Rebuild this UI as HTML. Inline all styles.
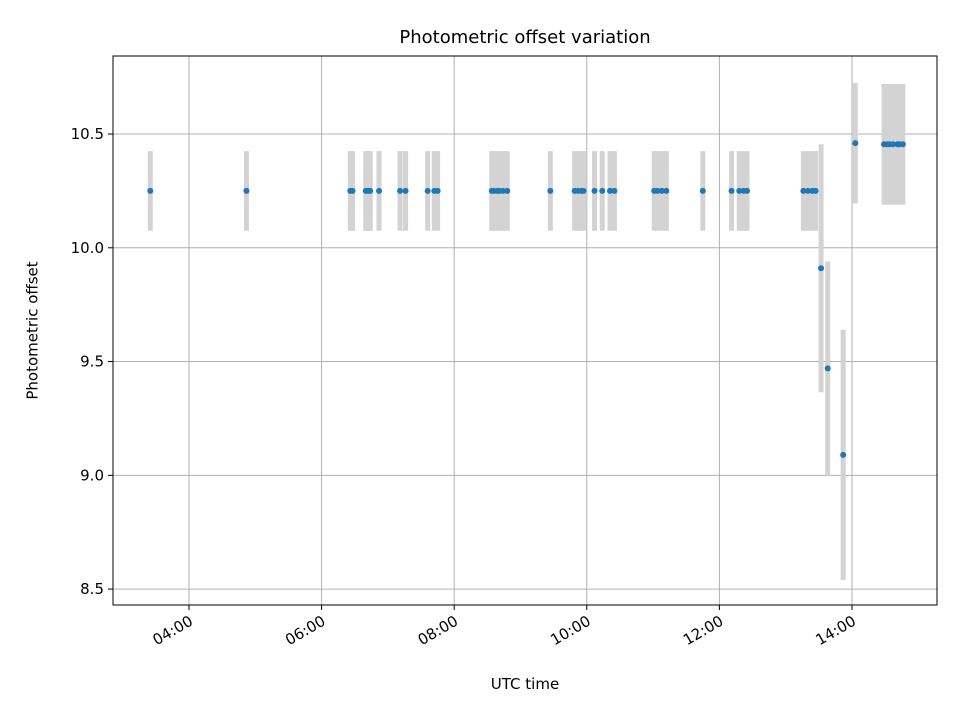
<!DOCTYPE html>
<html><head><meta charset="utf-8"><style>
body{margin:0;background:#fff;}
svg text{font-family:"DejaVu Sans","Liberation Sans",sans-serif;}
</style></head><body>
<svg id="chart" width="960" height="720" xmlns="http://www.w3.org/2000/svg"></svg>
<script>
const times=["03:25","04:52","06:26","06:28","06:40","06:42","06:44","06:52","07:11","07:16","07:36","07:42","07:45","08:34","08:36","08:39","08:41","08:44","08:48","09:27","09:49","09:52","09:55","09:57","10:07","10:14","10:21","10:25","11:01","11:04","11:08","11:12","11:45","12:11","12:18","12:22","12:25","13:16","13:20","13:24","13:27","13:32","13:38","13:52","14:03","14:29","14:32","14:34","14:37","14:41","14:43","14:46"];
const offsets=[10.25,10.25,10.25,10.25,10.25,10.25,10.25,10.25,10.25,10.25,10.25,10.25,10.25,10.25,10.25,10.25,10.25,10.25,10.25,10.25,10.25,10.25,10.25,10.25,10.25,10.25,10.25,10.25,10.25,10.25,10.25,10.25,10.25,10.25,10.25,10.25,10.25,10.25,10.25,10.25,10.25,9.91,9.47,9.09,10.46,10.455,10.455,10.455,10.455,10.455,10.455,10.455];
const errors=[0.175,0.175,0.175,0.175,0.175,0.175,0.175,0.175,0.175,0.175,0.175,0.175,0.175,0.175,0.175,0.175,0.175,0.175,0.175,0.175,0.175,0.175,0.175,0.175,0.175,0.175,0.175,0.175,0.175,0.175,0.175,0.175,0.175,0.175,0.175,0.175,0.175,0.175,0.175,0.175,0.175,0.545,0.47,0.55,0.265,0.265,0.265,0.265,0.265,0.265,0.265,0.265];
const xTickHours=[4,6,8,10,12,14];
const xTickLabels=["04:00","06:00","08:00","10:00","12:00","14:00"];
const yTicks=[8.5,9.0,9.5,10.0,10.5];
const yTickLabels=["8.5","9.0","9.5","10.0","10.5"];

const L=113,R=937,T=56,B=605;
const xMin=2.854,xMax=15.282,yMin=8.43,yMax=10.843;
const sx=h=>L+(h-xMin)/(xMax-xMin)*(R-L);
const sy=v=>B-(v-yMin)/(yMax-yMin)*(B-T);
const toH=s=>{const p=s.split(':');return +p[0]+(+p[1])/60;};
const svg=document.getElementById('chart');
const NS='http://www.w3.org/2000/svg';
function mk(tag,attrs,parent){const e=document.createElementNS(NS,tag);for(const k in attrs)e.setAttribute(k,attrs[k]);(parent||svg).appendChild(e);return e;}

xTickHours.forEach((h,i)=>{
  const g=mk('line',{x1:sx(h),x2:sx(h),y1:T,y2:B,stroke:'#b0b0b0','stroke-width':1});
  
  
  const t=mk('line',{x1:sx(h),x2:sx(h),y1:B,y2:B+5,stroke:'#000','stroke-width':1});
  
  
  const x=sx(h)+5,y=B+19;
  const tx=mk('text',{x:x,y:y,'font-size':15,'text-anchor':'end',transform:`rotate(-30 ${x} ${y})`});
  tx.textContent=xTickLabels[i];
  
  
});
yTicks.forEach((v,i)=>{
  const g=mk('line',{x1:L,x2:R,y1:sy(v),y2:sy(v),stroke:'#b0b0b0','stroke-width':1});
  
  
  const t=mk('line',{x1:L-5,x2:L,y1:sy(v),y2:sy(v),stroke:'#000','stroke-width':1});
  
  
  const tx=mk('text',{x:L-9,y:sy(v)+5,'font-size':15,'text-anchor':'end'});
  tx.textContent=yTickLabels[i];
  
  
});
times.forEach((s,i)=>{
  const x=sx(toH(s));
  const e=mk('line',{x1:x,x2:x,y1:sy(offsets[i]+errors[i]),y2:sy(offsets[i]-errors[i]),stroke:'#d3d3d3','stroke-width':5});
  
  
});
times.forEach((s,i)=>{
  const c=mk('circle',{cx:sx(toH(s)),cy:sy(offsets[i]),r:3,fill:'#1f77b4'});
  
  
});
const fr=mk('rect',{x:L,y:T,width:R-L,height:B-T,fill:'none',stroke:'#000','stroke-width':1});


const ti=mk('text',{x:(L+R)/2,y:43,'font-size':18,'text-anchor':'middle'});
ti.textContent='Photometric offset variation';


const xl=mk('text',{x:(L+R)/2,y:689,'font-size':15,'text-anchor':'middle'});
xl.textContent='UTC time';


const yl=mk('text',{x:33,y:(T+B)/2,'font-size':15,'text-anchor':'middle','dominant-baseline':'middle',transform:`rotate(-90 33 ${(T+B)/2})`});
yl.textContent='Photometric offset';


</script>
</body></html>
